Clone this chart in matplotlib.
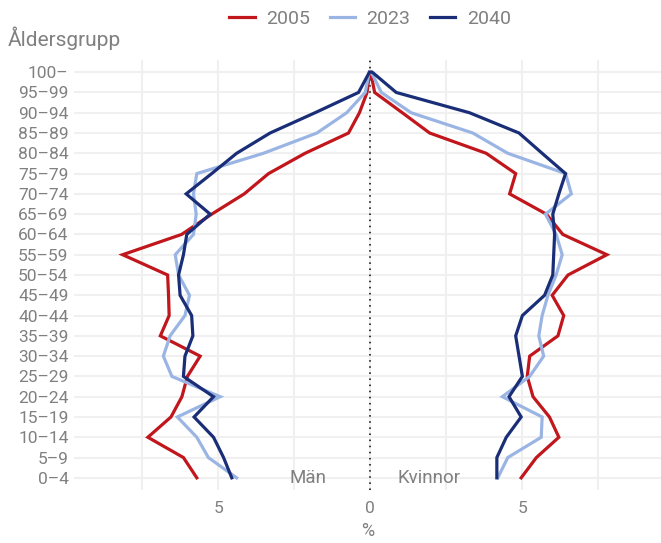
import matplotlib
matplotlib.use("Agg")
import matplotlib.pyplot as plt
import numpy as np

plt.rcParams['font.family'] = ['Roboto', 'DejaVu Sans']
plt.rcParams['font.weight'] = 'normal'

# åldersgrupper, nedifrån och upp
groups = ['0–4', '5–9', '10–14', '15–19', '20–24', '25–29', '30–34', '35–39',
          '40–44', '45–49', '50–54', '55–59', '60–64', '65–69', '70–74',
          '75–79', '80–84', '85–89', '90–94', '95–99', '100–']

# andel (%) män
men_2005 = [5.70, 6.14, 7.31, 6.55, 6.19, 6.01, 5.59, 6.90, 6.61, 6.63, 6.66,
            8.14, 6.20, 5.21, 4.14, 3.34, 2.14, 0.71, 0.35, 0.10, 0.02]
men_2023 = [4.39, 5.32, 5.70, 6.34, 4.93, 6.52, 6.80, 6.58, 6.09, 5.94, 6.30,
            6.41, 5.81, 5.72, 5.81, 5.70, 3.51, 1.75, 0.77, 0.16, 0.03]
men_2040 = [4.55, 4.82, 5.15, 5.79, 5.15, 6.14, 6.09, 5.83, 5.87, 6.25, 6.30,
            6.14, 6.03, 5.26, 6.05, 5.21, 4.39, 3.29, 1.81, 0.38, 0.02]

# andel (%) kvinnor
women_2005 = [4.97, 5.47, 6.21, 5.90, 5.36, 5.17, 5.25, 6.18, 6.37, 5.99, 6.51,
              7.79, 6.34, 5.80, 4.59, 4.79, 3.82, 1.96, 1.06, 0.15, 0.02]
women_2023 = [4.20, 4.53, 5.63, 5.66, 4.35, 5.25, 5.71, 5.55, 5.66, 5.85, 6.12,
              6.32, 6.12, 5.77, 6.62, 6.43, 4.53, 3.38, 1.35, 0.37, 0.04]
women_2040 = [4.17, 4.17, 4.48, 4.97, 4.57, 5.01, 4.90, 4.79, 5.01, 5.74, 6.01,
              6.04, 6.07, 6.01, 6.21, 6.43, 5.66, 4.90, 3.27, 0.86, 0.07]

years = ['2005', '2023', '2040']
colors = ['#C0161C', '#9AB5E3', '#1A2E78']
men = [men_2005, men_2023, men_2040]
women = [women_2005, women_2023, women_2040]

grey = '#808080'
y = np.arange(len(groups))

fig = plt.figure(figsize=(6.61, 5.43), dpi=100)
ax = fig.add_axes([74 / 661, 1 - 490 / 543, 587 / 661, 430 / 543])

for yr, col, m, w in zip(years, colors, men, women):
    # män till vänster, kvinnor till höger; toppen möts i 100-
    xs = [-v for v in m] + w[::-1]
    ys = list(y) + list(y[::-1])
    ax.plot(xs, ys, color=col, lw=2.3, label=yr, solid_joinstyle='miter', zorder=3)

ax.axvline(0, color='black', lw=1.1, ls=(0, (1, 3)), zorder=2)

ax.set_xlim(-9.74, 9.57)
ax.set_ylim(-0.6, 20.6)
ax.set_yticks(y)
ax.set_yticklabels(groups)
ax.set_xticks([-5, 0, 5])
ax.set_xticklabels(['5', '0', '5'])
ax.set_xticks([-7.5, -2.5, 2.5, 7.5], minor=True)
ax.tick_params(which='both', length=0, colors=grey, labelsize=12.5, pad=4)
ax.tick_params(axis='x', pad=8)
ax.grid(True, which='both', color='#f0f0f0', lw=1.5, zorder=0)
for s in ax.spines.values():
    s.set_visible(False)

ax.set_xlabel('%', color=grey, fontsize=13, labelpad=4)
ax.text(-1.45, 0, 'Män', color=grey, fontsize=13.5, ha='right', va='center')
ax.text(0.9, 0, 'Kvinnor', color=grey, fontsize=13.5, ha='left', va='center')

fig.text(8 / 661, 1 - 38 / 543, 'Åldersgrupp', color=grey, fontsize=15,
         ha='left', va='center')

fig.legend(loc='center', bbox_to_anchor=(370 / 661, 1 - 19 / 543), ncol=3,
           frameon=False, fontsize=14, labelcolor=grey, handlelength=1.3,
           handletextpad=0.6, columnspacing=1.0)

fig.savefig('out.png', dpi=100)
